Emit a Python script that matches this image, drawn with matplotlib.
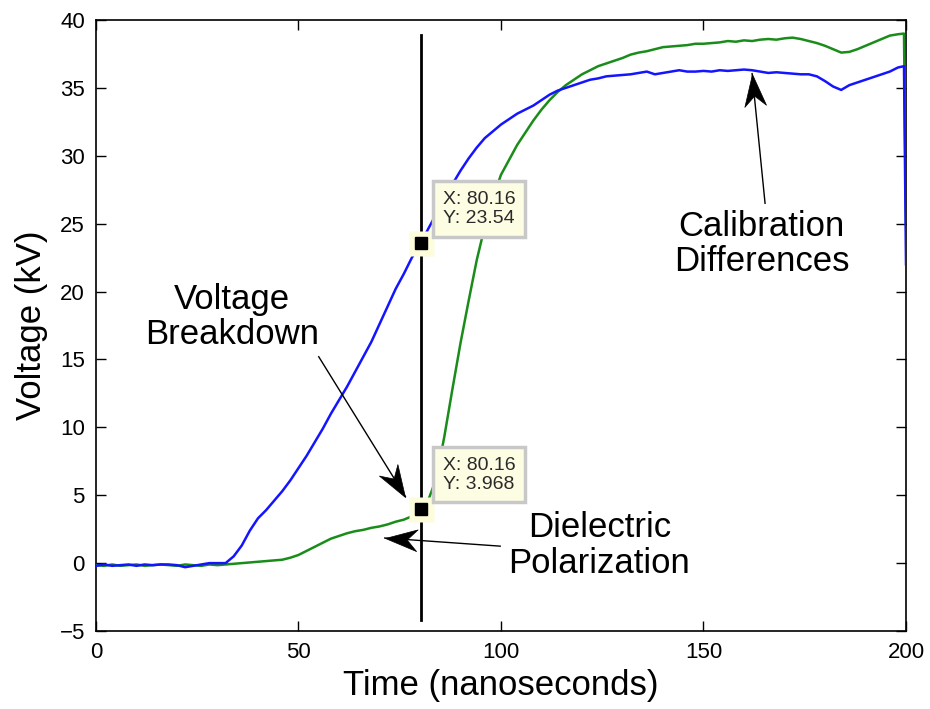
import math
import matplotlib
matplotlib.use("Agg")
import matplotlib.pyplot as plt
from matplotlib.path import Path
from matplotlib.markers import MarkerStyle
from matplotlib.transforms import Affine2D

plt.rcParams['font.family'] = ['Liberation Sans', 'DejaVu Sans']

# Sample times (ns)
time_ns = [0, 2, 4, 6, 8, 10, 12, 14, 16, 18, 20, 22, 24, 26, 28, 30, 32, 34, 36, 38,
           40, 42, 44, 46, 48, 50, 52, 54, 56, 58, 60, 62, 64, 66, 68, 70, 72, 74, 76, 78,
           80, 82, 84, 86, 88, 90, 92, 94, 96, 98, 100, 102, 104, 106, 108, 110, 112, 114, 116, 118,
           120, 122, 124, 126, 128, 130, 132, 134, 136, 138, 140, 142, 144, 146, 148, 150, 152, 154, 156, 158,
           160, 162, 164, 166, 168, 170, 172, 174, 176, 178, 180, 182, 184, 186, 188, 190, 192, 194, 196, 198,
           199.5, 200]

# Probe 1 (blue), kV
probe_blue = [-0.2, -0.1, -0.2, -0.15, -0.1, -0.2, -0.1, -0.15, -0.1, -0.1, -0.15, -0.3, -0.2, -0.1, 0.0, 0.0, 0.0, 0.5, 1.3, 2.4,
              3.3, 3.9, 4.6, 5.3, 6.1, 7.0, 7.9, 8.9, 9.9, 11.0, 12.0, 13.0, 14.1, 15.2, 16.3, 17.6, 18.9, 20.2, 21.3, 22.5,
              23.45, 24.6, 25.7, 26.8, 27.9, 28.9, 29.8, 30.6, 31.3, 31.8, 32.3, 32.7, 33.1, 33.4, 33.7, 34.1, 34.5, 34.8, 35.0, 35.2,
              35.4, 35.6, 35.7, 35.85, 35.9, 35.95, 36.0, 36.1, 36.2, 36.0, 36.1, 36.2, 36.3, 36.2, 36.2, 36.25, 36.2, 36.3, 36.25, 36.3,
              36.35, 36.3, 36.2, 36.1, 36.15, 36.1, 36.05, 36.0, 36.0, 35.85, 35.5, 35.1, 34.85, 35.2, 35.4, 35.6, 35.8, 36.0, 36.2, 36.5,
              36.6, 22.0]

# Probe 2 (green), kV
probe_green = [-0.15, -0.2, -0.1, -0.2, -0.15, -0.1, -0.2, -0.15, -0.1, -0.15, -0.2, -0.1, -0.15, -0.2, -0.1, -0.15, -0.1, -0.05, 0.0, 0.05,
               0.1, 0.15, 0.2, 0.25, 0.4, 0.6, 0.9, 1.2, 1.5, 1.8, 2.0, 2.2, 2.35, 2.45, 2.6, 2.7, 2.85, 3.05, 3.2, 3.45,
               3.9, 4.6, 6.2, 9.3, 12.8, 16.2, 19.3, 22.3, 24.8, 26.9, 28.6, 29.7, 30.8, 31.7, 32.6, 33.4, 34.1, 34.7, 35.2, 35.6,
               36.0, 36.3, 36.6, 36.8, 37.0, 37.2, 37.45, 37.6, 37.7, 37.85, 38.0, 38.05, 38.1, 38.15, 38.25, 38.25, 38.3, 38.35, 38.45, 38.4,
               38.5, 38.45, 38.55, 38.6, 38.55, 38.65, 38.7, 38.6, 38.45, 38.3, 38.1, 37.85, 37.6, 37.65, 37.85, 38.1, 38.35, 38.6, 38.85, 38.95,
               39.0, 25.0]

# Data cursor readouts
cursor_x = 80.16
cursor_y = [23.54, 3.968]
cursor_text = ["X: 80.16\nY: 23.54", "X: 80.16\nY: 3.968"]

# Text annotations: label, text centre, arrow tail, arrow tip (data units)
notes = [
    ("Voltage\nBreakdown", (33.6, 18.1), (55.0, 15.2), (76.4, 4.9)),
    ("Dielectric\nPolarization", (124.3, 1.3), (99.8, 1.25), (71.3, 1.85)),
    ("Calibration\nDifferences", (164.3, 23.5), (165.2, 26.5), (162.0, 36.05)),
]

fig = plt.figure(figsize=(9.3, 7.09), dpi=100)
ax = fig.add_axes([0.1032, 0.110, 0.8710, 0.8618])
ax.set_xlim(0, 200)
ax.set_ylim(-5, 40)

ax.plot(time_ns, probe_green, color='#1a8c1a', lw=1.8, zorder=3)
ax.plot(time_ns, probe_blue, color='#1414ff', lw=1.8, zorder=3)

# Vertical marker line at breakdown time
ax.plot([cursor_x, cursor_x], [-4.2, 38.9], color='black', lw=2.0, zorder=4)

# Data cursor markers and readout boxes
for yv, txt in zip(cursor_y, cursor_text):
    ax.plot(cursor_x, yv, marker='s', ms=18, mfc='#fdfddc', mec='none', zorder=5)
    ax.plot(cursor_x, yv, marker='s', ms=9, mfc='black', mec='black', zorder=6)
    ax.annotate(txt, xy=(cursor_x, yv), xytext=(16, 12), textcoords='offset points',
                fontsize=14, color='#2a2a2a', ha='left', va='bottom', linespacing=1.15,
                bbox=dict(boxstyle='square,pad=0.5', fc='#fdfde4', ec='#c8c8c8', lw=2.5),
                zorder=7)

# Concave (stealth) arrowhead, tip at origin pointing along +x
head_path = Path([(0, 0), (-1, 0.34), (-0.68, 0), (-1, -0.34), (0, 0)],
                 [Path.MOVETO, Path.LINETO, Path.LINETO, Path.LINETO, Path.CLOSEPOLY])

for label, centre, tail, tip in notes:
    ax.text(centre[0], centre[1], label, fontsize=25, ha='center', va='center',
            linespacing=1.08, zorder=8)
    ax.plot([tail[0], tip[0]], [tail[1], tip[1]], color='black', lw=1.0, zorder=8)
    p0, p1 = ax.transData.transform([tail, tip])
    ang = math.degrees(math.atan2(p1[1] - p0[1], p1[0] - p0[0]))
    mk = MarkerStyle(head_path, transform=Affine2D().rotate_deg(ang))
    ax.plot(tip[0], tip[1], marker=mk, ms=46, mfc='black', mec='black', mew=0.5,
            ls='none', zorder=9)

ax.set_xticks([0, 50, 100, 150, 200])
ax.set_yticks(list(range(-5, 41, 5)))
ax.tick_params(direction='in', length=7, width=1, labelsize=16, top=True, right=True, pad=8)
for s in ax.spines.values():
    s.set_linewidth(1.2)

ax.set_xlabel('Time (nanoseconds)', fontsize=25, labelpad=4)
ax.set_ylabel('Voltage (kV)', fontsize=25, labelpad=8)

fig.savefig('out.png', dpi=100)
